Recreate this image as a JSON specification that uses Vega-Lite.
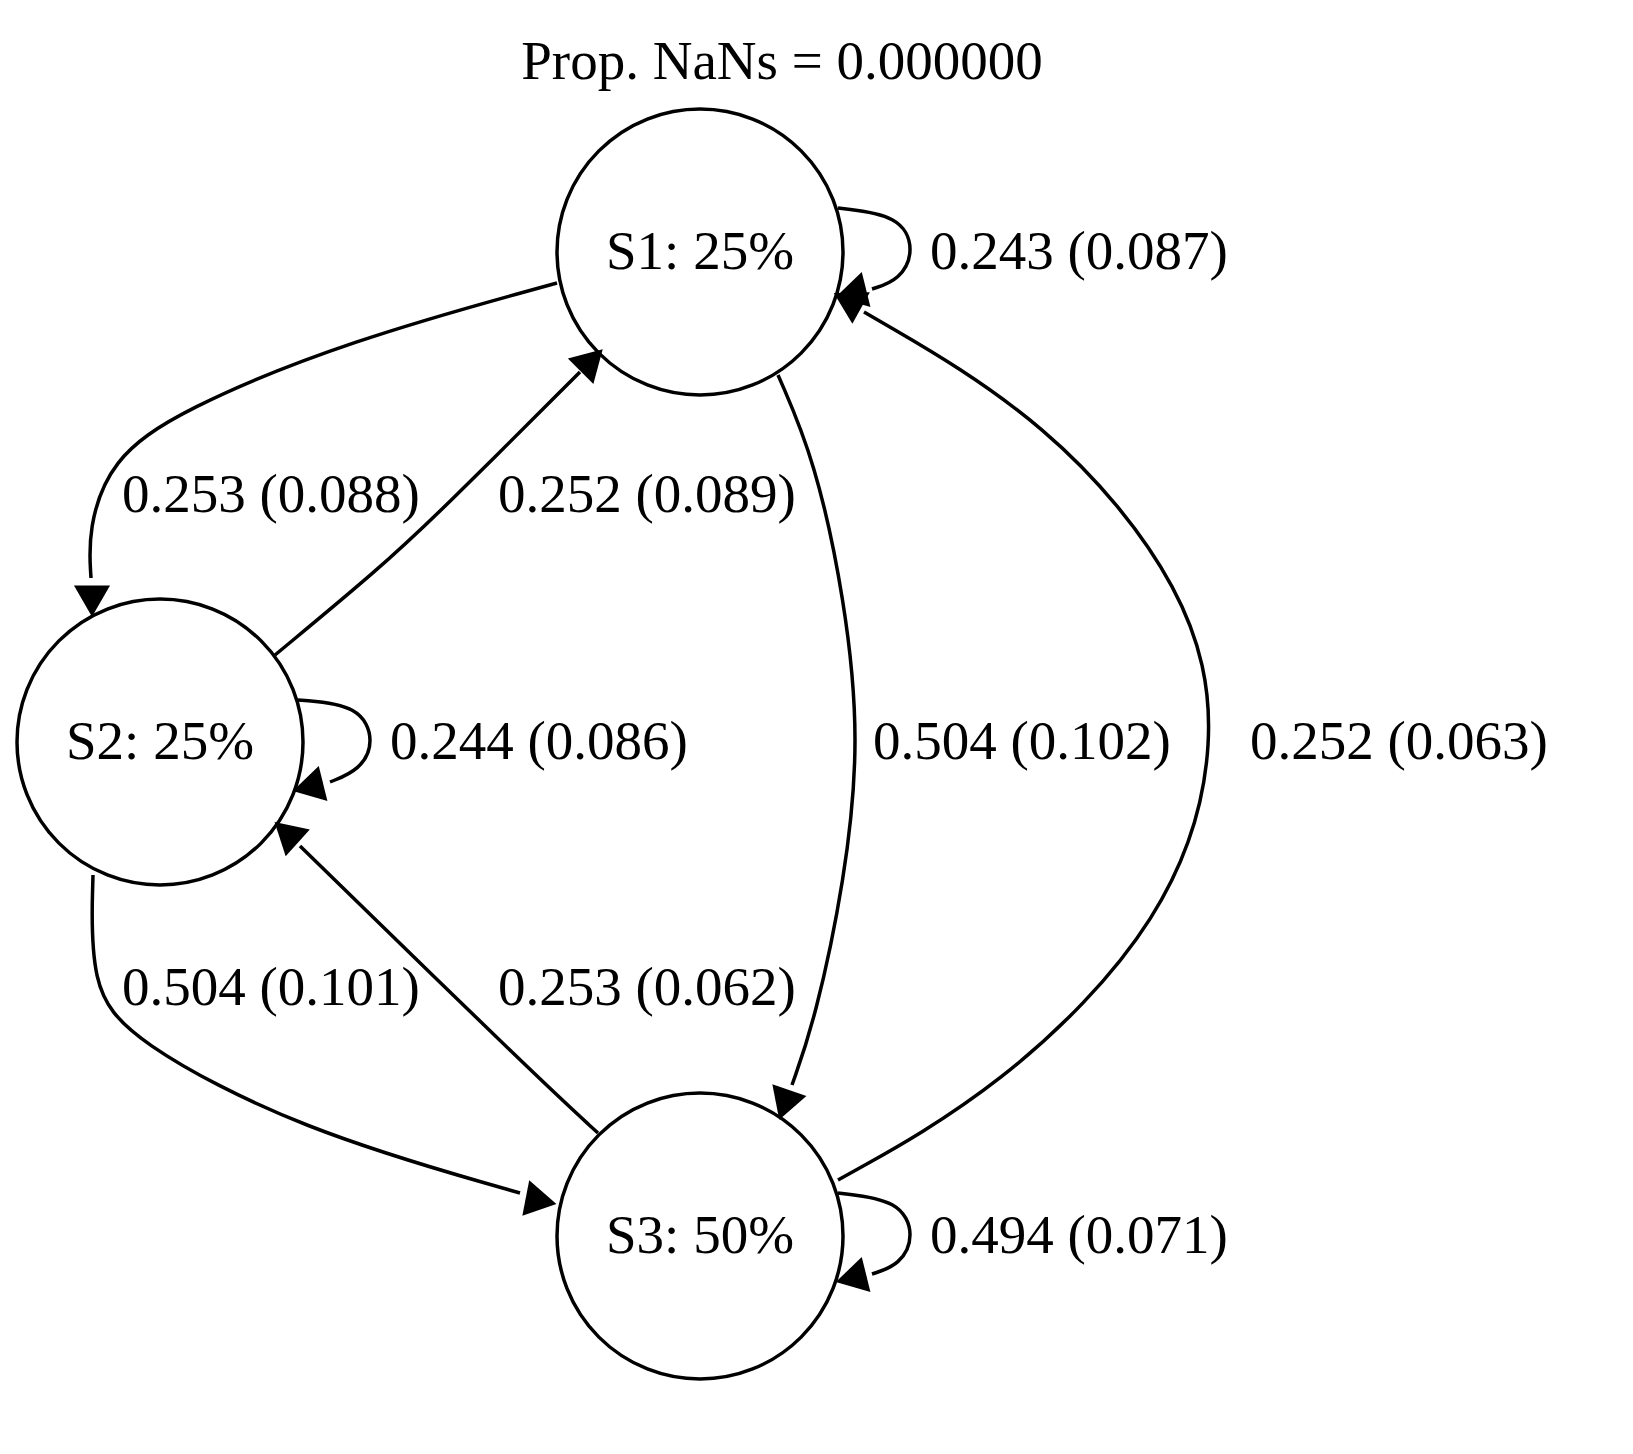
{
"$schema":"https://vega.github.io/schema/vega-lite/v6.json",
"width":1633,"height":1454,"padding":0,
"autosize":{"type":"fit","contains":"padding"},
"background":"white",
"config":{"view":{"stroke":null}},
"datasets":{
"nodes":[{"x":700,"y":252,"t":"S1: 25%"},{"x":160,"y":742,"t":"S2: 25%"},{"x":700,"y":1236,"t":"S3: 50%"}],
"edges":[
{"e":1,"o":1,"x":557,"y":283},{"e":1,"o":2,"x":350,"y":340},{"e":1,"o":3,"x":180,"y":410},{"e":1,"o":4,"x":110,"y":460},{"e":1,"o":5,"x":88,"y":530},{"e":1,"o":6,"x":91,"y":578},
{"e":2,"o":1,"x":275,"y":655},{"e":2,"o":2,"x":380,"y":568},{"e":2,"o":3,"x":440,"y":512},{"e":2,"o":4,"x":580,"y":372},
{"e":3,"o":1,"x":778,"y":375},{"e":3,"o":2,"x":815,"y":460},{"e":3,"o":3,"x":845,"y":600},{"e":3,"o":4,"x":860,"y":740},{"e":3,"o":5,"x":845,"y":880},{"e":3,"o":6,"x":815,"y":1020},{"e":3,"o":7,"x":792,"y":1085},
{"e":4,"o":1,"x":838,"y":1180},{"e":4,"o":2,"x":1000,"y":1090},{"e":4,"o":3,"x":1170,"y":920},{"e":4,"o":4,"x":1222,"y":740},{"e":4,"o":5,"x":1190,"y":590},{"e":4,"o":6,"x":1050,"y":420},{"e":4,"o":7,"x":864,"y":312},
{"e":5,"o":1,"x":93,"y":875},{"e":5,"o":2,"x":90,"y":985},{"e":5,"o":3,"x":130,"y":1040},{"e":5,"o":4,"x":300,"y":1130},{"e":5,"o":5,"x":520,"y":1193},
{"e":6,"o":1,"x":598,"y":1133},{"e":6,"o":2,"x":540,"y":1080},{"e":6,"o":3,"x":300,"y":846},
{"e":7,"o":1,"x":838,"y":208},{"e":7,"o":2,"x":900,"y":215},{"e":7,"o":3,"x":915,"y":250},{"e":7,"o":4,"x":900,"y":280},{"e":7,"o":5,"x":872,"y":289},
{"e":8,"o":1,"x":298,"y":700},{"e":8,"o":2,"x":360,"y":705},{"e":8,"o":3,"x":375,"y":742},{"e":8,"o":4,"x":360,"y":770},{"e":8,"o":5,"x":330,"y":782},
{"e":9,"o":1,"x":838,"y":1193},{"e":9,"o":2,"x":900,"y":1200},{"e":9,"o":3,"x":915,"y":1236},{"e":9,"o":4,"x":900,"y":1265},{"e":9,"o":5,"x":872,"y":1274}],
"arrows":[{"x":92,"y":596,"a":180},{"x":588,"y":364,"a":45},{"x":786,"y":1100,"a":199},{"x":852,"y":303,"a":299},{"x":536,"y":1200,"a":101},{"x":290,"y":836,"a":312},{"x":856,"y":292,"a":256},{"x":313,"y":786,"a":256},{"x":856,"y":1277,"a":256}],
"labels":[{"x":930,"y":252,"t":"0.243 (0.087)"},{"x":122,"y":495,"t":"0.253 (0.088)"},{"x":498,"y":495,"t":"0.252 (0.089)"},{"x":390,"y":742,"t":"0.244 (0.086)"},{"x":873,"y":742,"t":"0.504 (0.102)"},{"x":1250,"y":742,"t":"0.252 (0.063)"},{"x":122,"y":988,"t":"0.504 (0.101)"},{"x":498,"y":988,"t":"0.253 (0.062)"},{"x":930,"y":1236,"t":"0.494 (0.071)"}],
"title":[{"x":782,"y":62,"t":"Prop. NaNs = 0.000000"}]
},
"encoding":{
"x":{"field":"x","type":"quantitative","scale":{"domain":[0,1633],"nice":false,"zero":false},"axis":null},
"y":{"field":"y","type":"quantitative","scale":{"domain":[1454,0],"nice":false,"zero":false},"axis":null}
},
"layer":[
{"data":{"name":"edges"},"mark":{"type":"line","interpolate":"basis","color":"black","strokeWidth":3.5},"encoding":{"detail":{"field":"e"},"order":{"field":"o"}}},
{"data":{"name":"arrows"},"mark":{"type":"point","shape":"triangle","filled":true,"color":"black","opacity":1,"size":1300},"encoding":{"angle":{"field":"a","type":"quantitative","scale":null}}},
{"data":{"name":"nodes"},"mark":{"type":"point","shape":"circle","size":81796,"filled":false,"stroke":"black","strokeWidth":3.5,"opacity":1}},
{"data":{"name":"nodes"},"mark":{"type":"text","font":"Liberation Serif","fontSize":55,"align":"center","baseline":"middle","color":"black"},"encoding":{"text":{"field":"t"}}},
{"data":{"name":"labels"},"mark":{"type":"text","font":"Liberation Serif","fontSize":55,"align":"left","baseline":"middle","color":"black"},"encoding":{"text":{"field":"t"}}},
{"data":{"name":"title"},"mark":{"type":"text","font":"Liberation Serif","fontSize":55,"align":"center","baseline":"middle","color":"black"},"encoding":{"text":{"field":"t"}}}
]
}
